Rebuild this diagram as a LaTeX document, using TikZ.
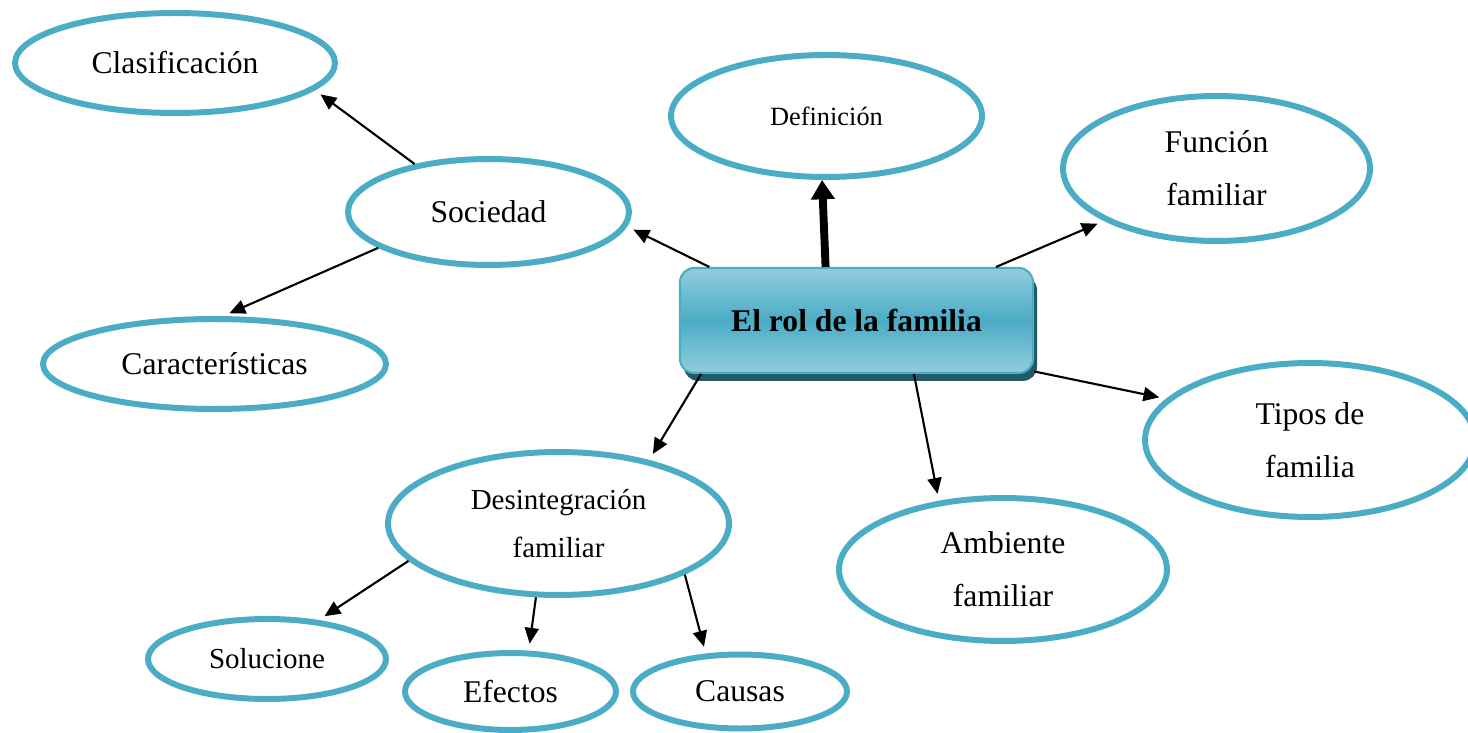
\documentclass[tikz,border=0pt]{standalone}
\usepackage{fontspec}
\setmainfont{Liberation Serif}
\usetikzlibrary{shapes.geometric,arrows.meta,shadows}
\definecolor{aqua}{HTML}{4BACC6}
\definecolor{aqualight}{HTML}{93CDDD}
\definecolor{aquadark}{HTML}{215968}

\begin{document}
\begin{tikzpicture}[x=0.02cm, y=-0.02cm,
    topic/.style ={ellipse, draw=aqua, line width=3.4pt, inner sep=0pt, align=center,
      font=\fontsize{18}{30}\selectfont},
    central/.style ={rectangle, rounded corners=8pt, draw=aqua, line width=1.2pt,
      top color=aqualight, bottom color=aqualight, middle color=aqua,
      minimum width=7.06cm, minimum height=2.1cm, font=\fontsize{18}{22}\selectfont\bfseries,
      drop shadow={shadow xshift=2.3pt, shadow yshift=-4.5pt, fill=aquadark, opacity=1}},
    link/.style ={-{Triangle[length=9pt,width=8pt]}, line width=1.2pt, shorten >=4pt},
    mainlink/.style ={-{Triangle[length=11pt,width=13pt]}, line width=4.5pt}]
   \useasboundingbox (0,0) rectangle (1468,733);

   \node[topic, minimum width=6.4cm, minimum height=2cm] (clas) at (175,63) {Clasificación};
   \node[topic, minimum width=6.22cm, minimum height=2.44cm, font=\fontsize{15}{18}\selectfont] (def) at (826.5,116) {Definición};
   \node[topic, minimum width=6.14cm, minimum height=2.9cm] (fun) at (1216.5,168.5) {Función\\familiar};
   \node[topic, minimum width=5.62cm, minimum height=2.12cm] (soc) at (488.5,212) {Sociedad};
   \node[topic, minimum width=6.86cm, minimum height=1.8cm] (car) at (214.5,364) {Características};
   \node[central] (rol) at (856.5,320.5) {El rol de la familia};
   \node[topic, minimum width=6.6cm, minimum height=3.08cm] (tip) at (1310,440) {Tipos de\\familia};
   \node[topic, minimum width=6.56cm, minimum height=2.86cm] (amb) at (1003,569.5) {Ambiente\\familiar};
   \node[topic, minimum width=6.82cm, minimum height=2.86cm, font=\fontsize{16.5}{27}\selectfont] (des) at (558.5,523.5) {Desintegración\\familiar};
   \node[topic, minimum width=4.76cm, minimum height=1.6cm, font=\fontsize{16.5}{20}\selectfont] (sol) at (267,659) {Solucione};
   \node[topic, minimum width=4.22cm, minimum height=1.54cm] (efe) at (510.5,691.5) {Efectos};
   \node[topic, minimum width=4.28cm, minimum height=1.48cm] (cau) at (740,691.5) {Causas};

   \draw[link] (soc.147) -- (clas.-11);
   \draw[link] (soc.198) -- (car.80);
   \draw[link] (rol.160) -- (soc.-6);
   \draw[mainlink] (rol.120) -- (def.-94);
   \draw[link] (rol.21) -- (fun.205);
   \draw[link] (rol.-16) -- (tip.164);
   \draw[link] (rol.-43) -- (amb.133);
   \draw[link] (rol.199) -- (des.35);
   \draw[link] (des.194) -- (sol.37);
   \draw[link] (des.253) -- (efe.66);
   \draw[link] (des.-22) -- (cau.132);
 \end{tikzpicture}
\end{document}
